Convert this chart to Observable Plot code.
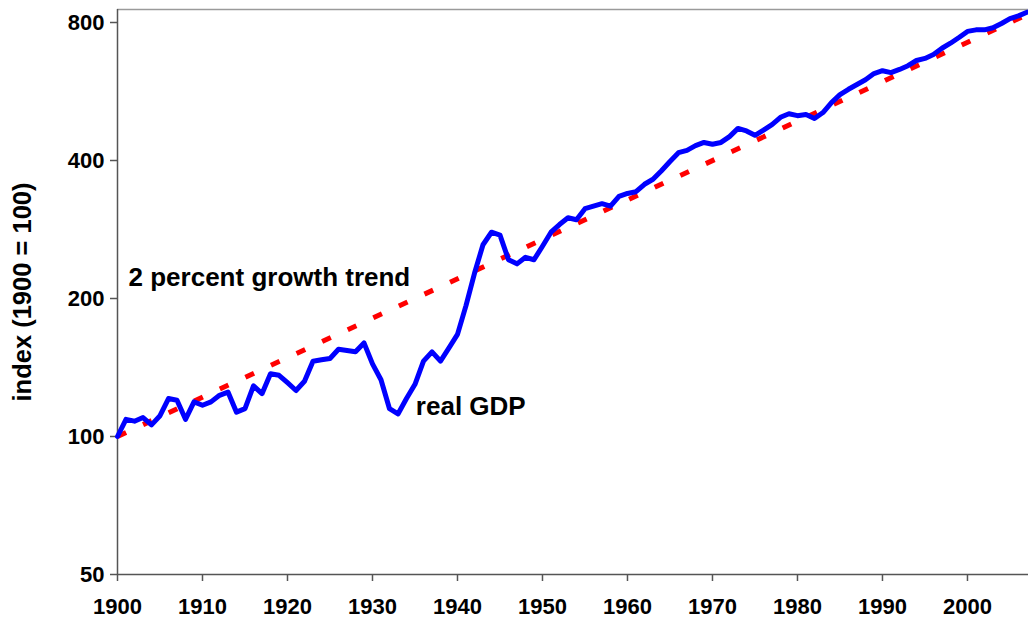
<!DOCTYPE html>
<html>
<head>
<meta charset="utf-8">
<script src="https://cdn.jsdelivr.net/npm/d3@7"></script>
<script src="https://cdn.jsdelivr.net/npm/@observablehq/plot@0.6"></script>
<style>
  html, body { margin: 0; padding: 0; background: #fff; }
  #chart svg { display: block; }
</style>
</head>
<body>
<div id="chart"></div>
<script>
// ---- data ----
const years = d3.range(1900, 2008);
const gdpIndex = [
  100, 109, 108, 110, 106, 111, 121, 120, 109, 119, // 1900-1909
  117, 119, 123, 125, 113, 115, 129, 124, 137, 136, // 1910-1919
  131, 126, 132, 146, 147, 148, 155, 154, 153, 160, // 1920-1929
  144, 133, 115, 112, 121, 130, 146, 153, 146, 156, // 1930-1939
  167, 193, 227, 262, 279, 275, 243, 238, 246, 243, // 1940-1949
  260, 279, 290, 300, 297, 314, 318, 322, 318, 334, // 1950-1959
  339, 342, 355, 364, 380, 398, 416, 421, 431, 438, // 1960-1969
  434, 438, 451, 470, 464, 454, 466, 479, 497, 506, // 1970-1979
  501, 504, 494, 509, 535, 557, 572, 586, 600, 619, // 1980-1989
  628, 622, 632, 644, 661, 668, 681, 703, 721, 742, // 1990-1999
  765, 771, 771, 779, 796, 816, 827, 842            // 2000-2007
];
const trendYears = [1900, 2007];
const trendValues = [100, 832];
const yTicks = [50, 100, 200, 400, 800];
const xTicks = [1900, 1910, 1920, 1930, 1940, 1950, 1960, 1970, 1980, 1990, 2000];
const annotationText = ["2 percent growth trend", "real GDP"];
const annotationYear = [1901.3, 1935.1];
const annotationValue = [222, 116];
const yTitle = "index (1900 = 100)";

const gdp = years.map((y, i) => ({year: y, value: gdpIndex[i]}));
const trend = trendYears.map((y, i) => ({year: y, value: trendValues[i]}));
const notes = annotationText.map((t, i) => ({text: t, year: annotationYear[i], value: annotationValue[i]}));

const font = "'Liberation Sans', Arial, Helvetica, sans-serif";

const chart = Plot.plot({
  width: 1028,
  height: 622,
  marginLeft: 117,
  marginRight: 0,
  marginTop: 9,
  marginBottom: 48,
  style: {fontFamily: font, background: "#fff", color: "#000", overflow: "visible"},
  x: {domain: [1900, 2007.18], axis: null},
  y: {type: "log", domain: [50, 854], axis: null},
  marks: [
    Plot.ruleY([854], {stroke: "#9a9a9a", strokeWidth: 1.5}),
    Plot.ruleX([1900], {stroke: "#555", strokeWidth: 1.5}),
    Plot.ruleY([50], {stroke: "#555", strokeWidth: 1.5}),
    // y ticks (lines only) and labels
    Plot.axisY(yTicks, {anchor: "left", tickSize: 7, stroke: "#555", strokeWidth: 1.5, fill: "none", label: null}),
    Plot.text(yTicks, {
      y: d => d, text: d => String(d), frameAnchor: "left", dx: -13,
      textAnchor: "end", lineAnchor: "middle", fontSize: 22, fontWeight: "bold", fill: "#000"
    }),
    // x ticks (lines only) and labels
    Plot.axisX(xTicks, {anchor: "bottom", tickSize: 7, stroke: "#555", strokeWidth: 1.5, fill: "none", label: null}),
    Plot.text(xTicks, {
      x: d => d, text: d => String(d), frameAnchor: "bottom", dy: 24,
      textAnchor: "middle", lineAnchor: "top", fontSize: 22, fontWeight: "bold", fill: "#000"
    }),
    Plot.line(trend, {
      x: "year", y: "value", stroke: "#ff0000", strokeWidth: 5,
      strokeDasharray: "9.5,18.7", strokeLinecap: "butt"
    }),
    Plot.line(gdp, {
      x: "year", y: "value", stroke: "#0000ff", strokeWidth: 5,
      strokeLinejoin: "round", strokeLinecap: "round"
    }),
    Plot.text(notes, {
      x: "year", y: "value", text: "text", textAnchor: "start", lineAnchor: "middle",
      fontSize: 26, fontWeight: "bold", fill: "#000"
    }),
    Plot.text([yTitle], {
      frameAnchor: "left", rotate: -90, dx: -95, fontSize: 25.5, fontWeight: "bold",
      fill: "#000", textAnchor: "middle", lineAnchor: "middle"
    })
  ]
});
document.getElementById("chart").appendChild(chart);
</script>
</body>
</html>
